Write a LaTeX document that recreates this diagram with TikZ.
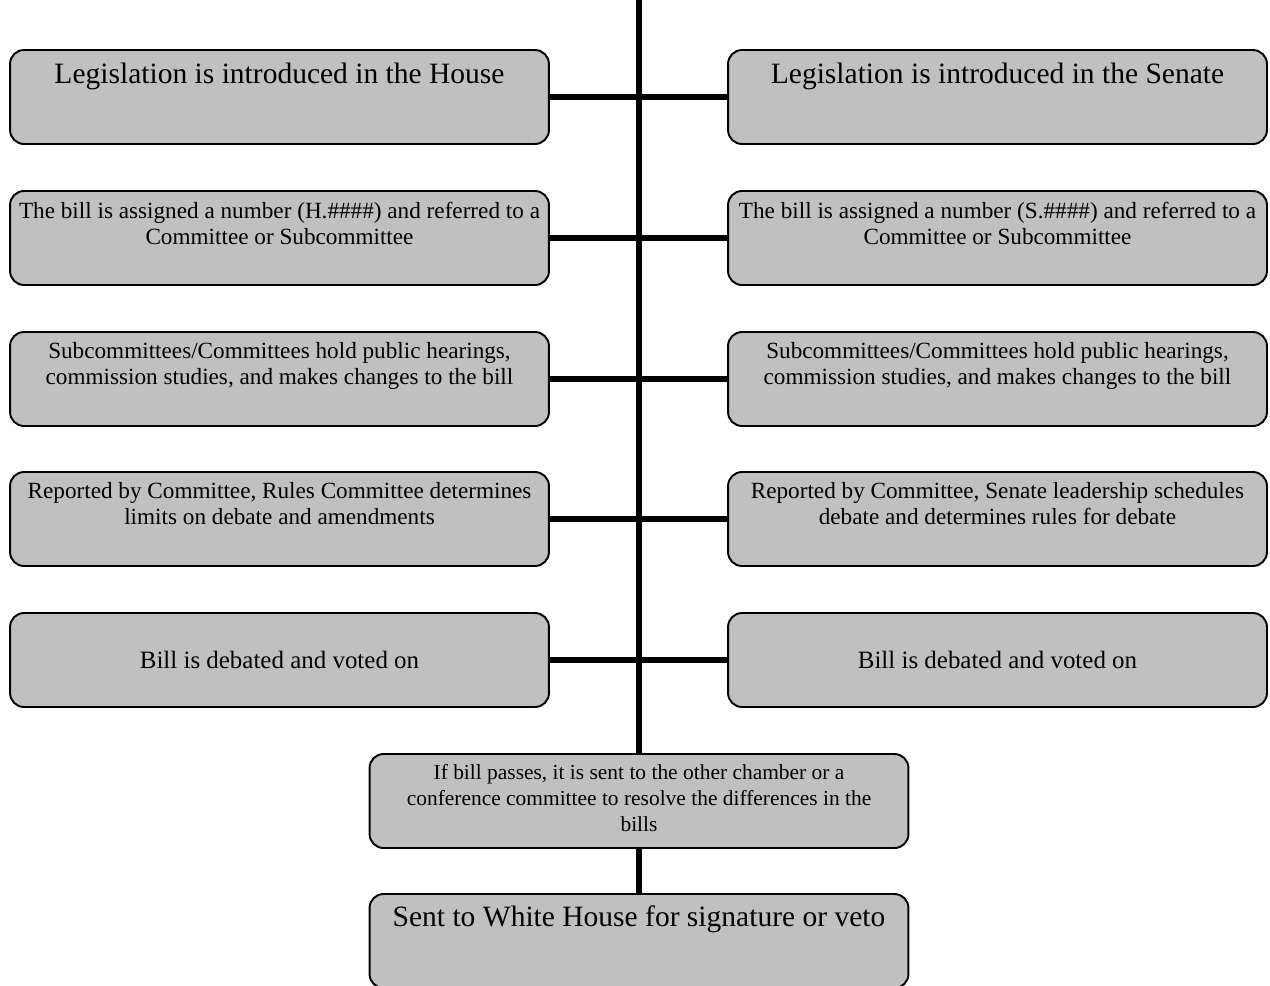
\documentclass[tikz,border=0pt]{standalone}
\usepackage{fontspec}
\setmainfont{Liberation Serif}
\usepackage{xcolor}
\usetikzlibrary{positioning}

\definecolor{boxgray}{RGB}{192,192,192}

\tikzset{
  stage/.style={draw=black, line width=1.1pt, fill=boxgray, rounded corners=0.28cm,
    minimum width=10.78cm, minimum height=1.88cm, inner sep=0pt},
  bigtxt/.style={font=\fontsize{16.8}{19}\selectfont, inner sep=0pt, align=center},
  smalltxt/.style={font=\fontsize{13.2}{14.7}\selectfont, inner sep=0pt, align=center},
  confbox/.style={font=\fontsize{12.2}{14.7}\selectfont, inner sep=0pt, align=center},
  spine/.style={line width=3.4pt, black},
}

\begin{document}
\begin{tikzpicture}[x=0.02cm, y=-0.02cm]
\useasboundingbox (0,0) rectangle (1270,985);
\clip (0,0) rectangle (1270,985);

% House side
\node[stage] (h1) at (279.5,97) {};
\node[stage] (h2) at (279.5,238) {};
\node[stage] (h3) at (279.5,379) {};
\node[stage] (h4) at (279.5,519) {};
\node[stage] (h5) at (279.5,660) {};

% Senate side
\node[stage] (s1) at (997.5,97) {};
\node[stage] (s2) at (997.5,238) {};
\node[stage] (s3) at (997.5,379) {};
\node[stage] (s4) at (997.5,519) {};
\node[stage] (s5) at (997.5,660) {};

% Conference and White House
\node[stage] (conf) at (639,801) {};
\node[stage] (veto) at (639,941) {};

% Texts
\node[bigtxt, below=0.27cm of h1.north] (h1t) {Legislation is introduced in the House};
\node[smalltxt, below=0.23cm of h2.north] (h2t) {The bill is assigned a number (H.\#\#\#\#) and referred to a\\Committee or Subcommittee};
\node[smalltxt, below=0.23cm of h3.north] (h3t) {Subcommittees/Committees hold public hearings,\\commission studies, and makes changes to the bill};
\node[smalltxt, below=0.23cm of h4.north] (h4t) {Reported by Committee, Rules Committee determines\\limits on debate and amendments};
\node[bigtxt, font=\fontsize{14.2}{17}\selectfont] (h5t) at (h5) {Bill is debated and voted on};

\node[bigtxt, below=0.27cm of s1.north] (s1t) {Legislation is introduced in the Senate};
\node[smalltxt, below=0.23cm of s2.north] (s2t) {The bill is assigned a number (S.\#\#\#\#) and referred to a\\Committee or Subcommittee};
\node[smalltxt, below=0.23cm of s3.north] (s3t) {Subcommittees/Committees hold public hearings,\\commission studies, and makes changes to the bill};
\node[smalltxt, below=0.23cm of s4.north] (s4t) {Reported by Committee, Senate leadership schedules\\debate and determines rules for debate};
\node[bigtxt, font=\fontsize{14.2}{17}\selectfont] (s5t) at (s5) {Bill is debated and voted on};

\node[confbox, below=0.22cm of conf.north] (conft) {If bill passes, it is sent to the other chamber or a\\conference committee to resolve the differences in the\\bills};
\node[bigtxt, below=0.25cm of veto.north] (vetot) {Sent to White House for signature or veto};

% Spine and rungs
\coordinate (top) at (639,0);
\draw[spine] (top) -- (conf.north);
\draw[spine] (conf.south) -- (veto.north);
\foreach \i in {1,...,5}
  \draw[spine] (h\i.east) -- (s\i.west);

\end{tikzpicture}
\end{document}
